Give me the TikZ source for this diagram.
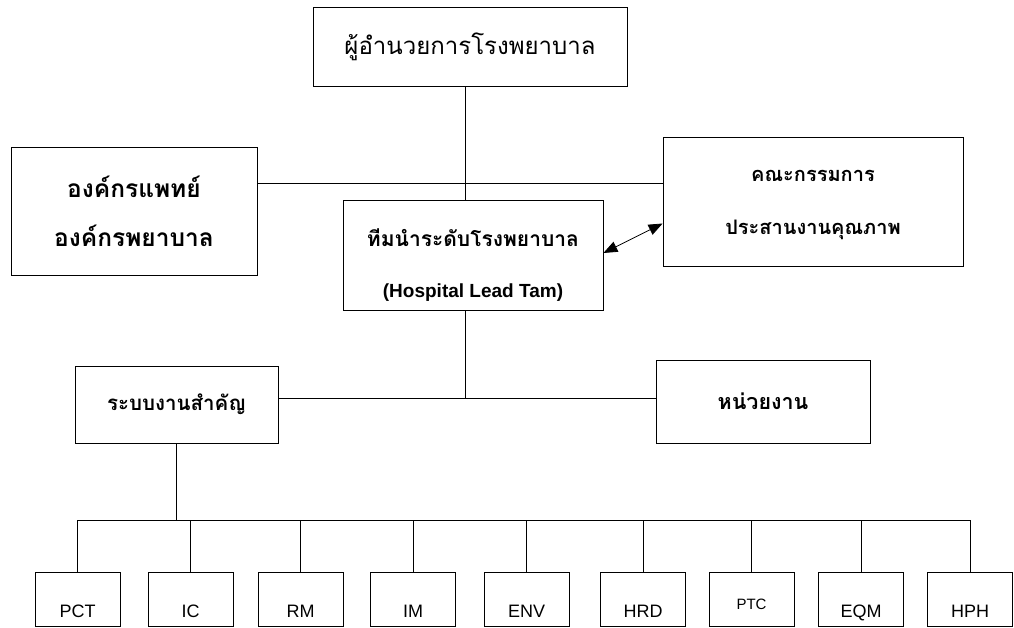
\documentclass[tikz,border=0pt]{standalone}
\usepackage{fontspec}
\setmainfont{Liberation Sans}
\newfontfamily\thaifont[Script=Thai]{Loma}
\usetikzlibrary{arrows.meta,positioning,calc}
\tikzstyle{orgbox}=[rectangle, draw, thick, align=center, inner sep=0pt]
\tikzstyle{unitbox}=[rectangle, draw, thick, minimum width=85pt, minimum height=54pt, inner sep=0pt]
\tikzstyle{tag}=[anchor=base, inner sep=0pt, font=\fontsize{18}{20}\selectfont]
\tikzstyle{link}=[thick]

\begin{document}
\begin{tikzpicture}[x=1pt, y=1pt]
    \useasboundingbox (0,0) rectangle (1014,627);

    % upper part
    \node[orgbox, minimum width=314pt, minimum height=79pt, font=\thaifont\fontsize{24}{28}\selectfont] (director) at (470,580.5) {ผู้อำนวยการโรงพยาบาล};
    \node[orgbox, minimum width=246pt, minimum height=128pt, font=\thaifont\bfseries\fontsize{24.5}{49}\selectfont] (medorg) at (134,416) {องค์กรแพทย์\\องค์กรพยาบาล};
    \node[orgbox, minimum width=260pt, minimum height=110pt] (lead) at (473,372) {};
    \node[align=center, inner sep=0pt, font=\thaifont\bfseries\fontsize{21}{51}\selectfont] (lead-t) at (473,362) {ทีมนำระดับโรงพยาบาล\\{\rmfamily\fontsize{19}{20}\selectfont (Hospital Lead Tam)}};
    \node[orgbox, minimum width=300pt, minimum height=129pt] (qcom) at (813,425.5) {};
    \node[align=center, inner sep=0pt, font=\thaifont\bfseries\fontsize{20}{53}\selectfont] (qcom-t) at (813,422.5) {คณะกรรมการ\\ประสานงานคุณภาพ};

    \coordinate (spine) at (465,0);
    \coordinate (hline) at (0,444);
    \draw[link] (director.south -| spine) -- (lead.north -| spine);
    \draw[link] (medorg.east |- hline) -- (qcom.west |- hline);
    \draw[link, {Triangle[length=14pt,width=11pt]}-{Triangle[length=14pt,width=11pt]}] ([yshift=2pt]lead.east) -- ([yshift=-22pt]qcom.west);

    % middle part
    \node[orgbox, minimum width=203pt, minimum height=77pt, font=\thaifont\bfseries\fontsize{20.5}{24}\selectfont] (keysys) at (176.5,222.5) {ระบบงานสำคัญ};
    \node[orgbox, minimum width=214pt, minimum height=83pt, font=\thaifont\bfseries\fontsize{21.5}{24}\selectfont] (units) at (763,225.5) {หน่วยงาน};

    \coordinate (mline) at (0,229);
    \draw[link] (lead.south -| spine) -- (spine |- mline);
    \draw[link] (keysys.east |- mline) -- (units.west |- mline);

    % lower part
    \coordinate (bus) at (0,107);
    \draw[link] (keysys.south) -- (keysys.south |- bus);
    \foreach \name/\x in {PCT/77.5, IC/190.5, RM/300.5, IM/413, ENV/526.5, HRD/643, PTC/751.5, EQM/861, HPH/970}{
      \node[unitbox] (\name) at (\x,28) {};
      \draw[link] (\name.north) -- (\name.north |- bus);
    }
    \draw[link] (PCT.north |- bus) -- (HPH.north |- bus);

    \foreach \name in {PCT, IC, RM, IM, ENV, HRD, EQM, HPH}
      \node[tag] (\name-t) at ([yshift=9pt]\name.south) {\name};
    \node[tag, font=\fontsize{15}{18}\selectfont] (PTC-t) at ([yshift=17pt]PTC.south) {PTC};
\end{tikzpicture}
\end{document}
